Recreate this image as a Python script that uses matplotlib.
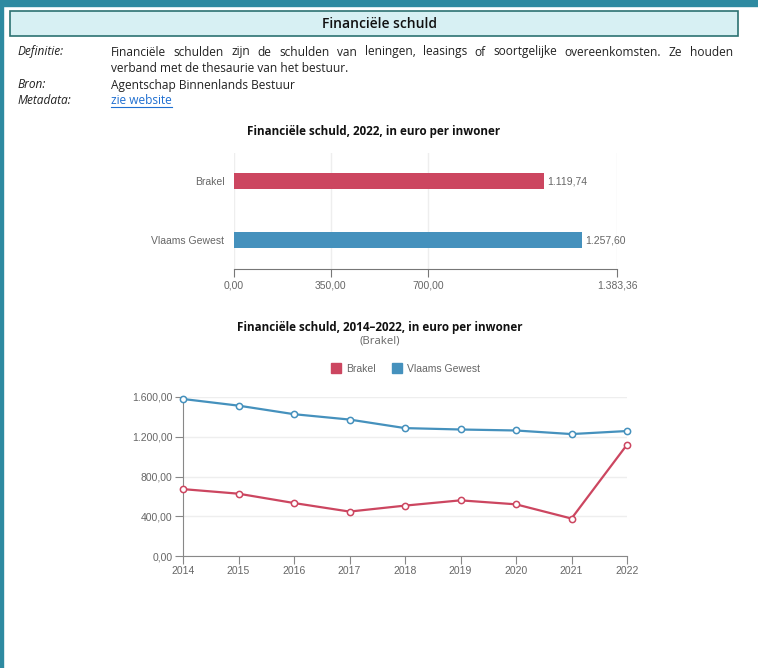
import matplotlib.pyplot as plt
from matplotlib.patches import Rectangle
from matplotlib.ticker import FuncFormatter

# ── data ──────────────────────────────────────────────────────
bar_names  = ['Brakel', 'Vlaams Gewest']
bar_values = [1119.74, 1257.60]
bar_max    = 1383.36

years   = [2014, 2015, 2016, 2017, 2018, 2019, 2020, 2021, 2022]
brakel  = [673, 627, 533, 447, 507, 560, 520, 377, 1119.74]
vlaams  = [1580, 1513, 1427, 1373, 1287, 1273, 1263, 1227, 1257.60]

RED, BLUE = '#cc4660', '#4591bd'
TEAL = '#2e8aa1'
GRAY = '#666666'
TICK_FS = 7.5
W, H = 758, 668

def nl(v, pos=None):
    s = f'{v:,.2f}'
    return s.replace(',', 'X').replace('.', ',').replace('X', '.')

fig = plt.figure(figsize=(W / 100, H / 100), dpi=100)
fig.patch.set_facecolor('white')

def px_axes(left, top, right, bottom):
    return fig.add_axes([left / W, 1 - bottom / H, (right - left) / W, (bottom - top) / H])

# ── page frame ────────────────────────────────────────────────
bg = fig.add_axes([0, 0, 1, 1])
bg.set_xlim(0, W)
bg.set_ylim(H, 0)
bg.axis('off')
bg.add_patch(Rectangle((0, 0), W, 6, color=TEAL))
bg.add_patch(Rectangle((0, 0), 3, H, color=TEAL))
bg.add_patch(Rectangle((10, 11), 728, 25, facecolor='#d7f0f3', edgecolor='#2c7272', lw=1.2))
bg.text(379, 24, 'Financiële schuld', ha='center', va='center', fontsize=10,
        family='Open Sans', fontweight='semibold', color='#111111')

meta_font = dict(fontsize=8.6, family='Open Sans', color='#222222')
bg.text(18, 52, 'Definitie:', va='center', style='italic', **meta_font)
bg.text(18, 85, 'Bron:', va='center', style='italic', **meta_font)
bg.text(18, 101, 'Metadata:', va='center', style='italic', **meta_font)

# justified first line of the definition
words = 'Financiële schulden zijn de schulden van leningen, leasings of soortgelijke overeenkomsten. Ze houden'.split()
renderer = fig.canvas.get_renderer()
objs = [bg.text(0, 52, w, va='center', **meta_font) for w in words]
widths = [o.get_window_extent(renderer).width for o in objs]
x0, x1 = 111, 733
gap = (x1 - x0 - sum(widths)) / (len(words) - 1)
x = x0
for o, w in zip(objs, widths):
    o.set_x(x)
    x += w + gap
bg.text(111, 68, 'verband met de thesaurie van het bestuur.', va='center', **meta_font)
bg.text(111, 85, 'Agentschap Binnenlands Bestuur', va='center', **meta_font)
link = bg.text(111, 101, 'zie website', va='center', fontsize=8.6, family='Open Sans', color='#1f6fd1')
lw_ = link.get_window_extent(renderer).width
bg.plot([111, 111 + lw_], [107, 107], color='#1f6fd1', lw=0.8)

# ── bar chart ─────────────────────────────────────────────────
ax1 = px_axes(234, 153, 617, 269)
ypos = range(len(bar_names))
ax1.barh(ypos, bar_values, height=0.26, color=[RED, BLUE], zorder=3)
ax1.set_ylim(1.49, -0.475)
ax1.set_xlim(0, bar_max)
ax1.set_xticks([0, 350, 700, bar_max])
ax1.xaxis.set_major_formatter(FuncFormatter(nl))
ax1.set_yticks(list(ypos))
ax1.set_yticklabels(bar_names)
ax1.grid(True, axis='x', color='#eeeeee', lw=1, zorder=0)
for s in ['top', 'right', 'left']:
    ax1.spines[s].set_visible(False)
ax1.spines['bottom'].set_color('#777777')
ax1.tick_params(axis='y', length=0, pad=7, labelsize=TICK_FS, labelcolor=GRAY)
ax1.tick_params(axis='x', length=6, color='#777777', labelsize=TICK_FS, labelcolor=GRAY, pad=2)
for lab in ax1.get_xticklabels() + ax1.get_yticklabels():
    lab.set_family('Liberation Sans')
for i, v in enumerate(bar_values):
    ax1.text(v + 12, i, nl(v), va='center', fontsize=TICK_FS, color=GRAY, family='Liberation Sans')
bg.text(374, 132, 'Financiële schuld, 2022, in euro per inwoner', ha='center', va='center',
        fontsize=8.4, family='Open Sans', fontweight='bold', color='#111111')

# ── line chart ────────────────────────────────────────────────
ax2 = px_axes(183, 397, 627, 556)
ax2.plot(years, vlaams, color=BLUE, lw=1.6, marker='o', ms=4.5,
         mfc='white', mec=BLUE, mew=1.1, zorder=3, clip_on=False)
ax2.plot(years, brakel, color=RED, lw=1.6, marker='o', ms=4.5,
         mfc='white', mec=RED, mew=1.1, zorder=3, clip_on=False)
ax2.set_xlim(2014, 2022)
ax2.set_ylim(0, 1600)
ax2.set_xticks(years)
ax2.set_yticks([0, 400, 800, 1200, 1600])
ax2.yaxis.set_major_formatter(FuncFormatter(nl))
ax2.grid(True, axis='y', color='#eeeeee', lw=1, zorder=0)
for s in ['top', 'right']:
    ax2.spines[s].set_visible(False)
for s in ['left', 'bottom']:
    ax2.spines[s].set_color('#888888')
ax2.tick_params(length=6, color='#888888', labelsize=TICK_FS, labelcolor=GRAY, pad=1.5)
for lab in ax2.get_xticklabels() + ax2.get_yticklabels():
    lab.set_family('Liberation Sans')

bg.text(380, 327, 'Financiële schuld, 2014–2022, in euro per inwoner', ha='center', va='center',
        fontsize=8.4, family='Open Sans', fontweight='bold', color='#111111')
bg.text(380, 341, '(Brakel)', ha='center', va='center', fontsize=8.2,
        family='Open Sans', color=GRAY)
# legend
for xs, name, c in [(331, 'Brakel', RED), (392, 'Vlaams Gewest', BLUE)]:
    bg.add_patch(Rectangle((xs, 363), 10, 10, color=c))
    bg.text(xs + 15, 368.5, name, va='center', fontsize=TICK_FS, color=GRAY, family='Liberation Sans')

plt.savefig('out.png', dpi=100, facecolor='white')
